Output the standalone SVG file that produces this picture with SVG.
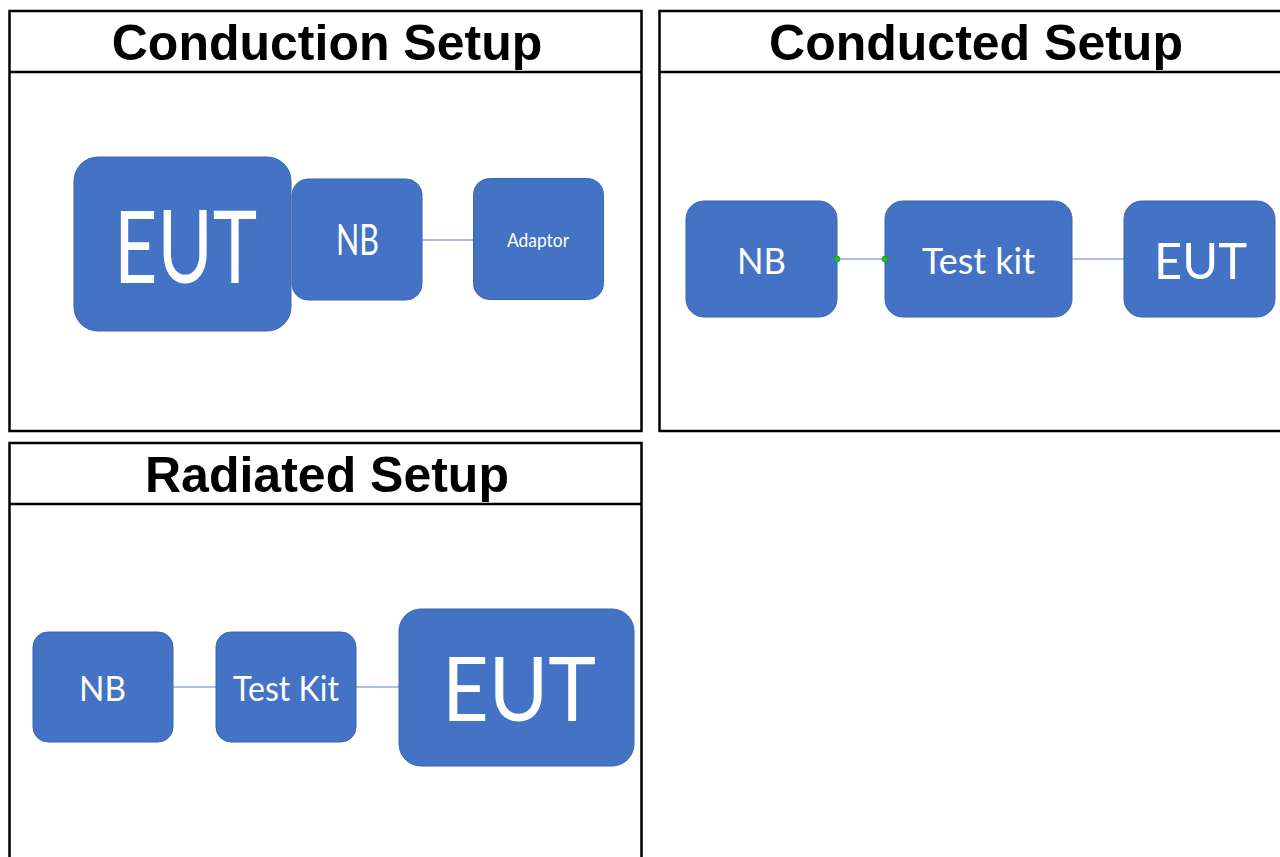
<svg xmlns="http://www.w3.org/2000/svg" width="1280" height="857" viewBox="0 0 1280 857">
<style>
.panel{fill:#fff;stroke:#000;stroke-width:2.5}
.hdr{stroke:#000;stroke-width:2.5}
.title{font-family:"Liberation Sans",Arial,sans-serif;font-weight:bold;font-size:50px;fill:#000;text-anchor:middle}
.box{fill:#4472C4;stroke:#3B65B0;stroke-width:1}
.lbl{font-family:Lato,"Open Sans",sans-serif;fill:#fff;text-anchor:middle}
.conn{stroke:#8FAADC;stroke-width:1.5;fill:none}
.dot{fill:#1FC01F;stroke:#128A12;stroke-width:0.6}
</style>
<rect width="1280" height="857" fill="#fff"/>
<g id="panel-conduction">
<rect class="panel" x="9.5" y="11" width="632" height="420"/>
<line class="hdr" x1="9.5" y1="72" x2="641.5" y2="72"/>
<text class="title" x="327" y="60">Conduction Setup</text>
</g>
<g id="panel-conducted">
<rect class="panel" x="659.5" y="11" width="640" height="420"/>
<line class="hdr" x1="659.5" y1="72" x2="1290" y2="72"/>
<text class="title" x="976" y="60">Conducted Setup</text>
</g>
<g id="panel-radiated">
<rect class="panel" x="9.5" y="443" width="632" height="440"/>
<line class="hdr" x1="9.5" y1="504" x2="641.5" y2="504"/>
<text class="title" x="327" y="492">Radiated Setup</text>
</g>
<g id="connectors">
<line class="conn" x1="422" y1="240" x2="474" y2="240"/>
<line class="conn" x1="837" y1="259" x2="885" y2="259"/>
<line class="conn" x1="1072" y1="259" x2="1124" y2="259"/>
<line class="conn" x1="173" y1="687" x2="216" y2="687"/>
<line class="conn" x1="356" y1="687" x2="399" y2="687"/>
</g>
<g id="c1-eut">
<rect class="box" x="74" y="157" width="217" height="174" rx="24"/>
<text class="lbl" x="185.5" y="283" font-size="101" textLength="143" lengthAdjust="spacingAndGlyphs">EUT</text>
</g>
<g id="c1-nb">
<rect class="box" x="292" y="179" width="130" height="121" rx="16"/>
<text class="lbl" x="357.5" y="255" font-size="42" textLength="43" lengthAdjust="spacingAndGlyphs">NB</text>
</g>
<g id="c1-adaptor">
<rect class="box" x="473.5" y="178.5" width="130" height="121" rx="16"/>
<text class="lbl" x="538" y="247" font-size="20" textLength="62" lengthAdjust="spacingAndGlyphs">Adaptor</text>
</g>
<g id="c2-nb">
<rect class="box" x="686" y="201" width="151" height="116" rx="18"/>
<text class="lbl" x="761.5" y="274" font-size="37" textLength="49" lengthAdjust="spacingAndGlyphs">NB</text>
</g>
<g id="c2-testkit">
<rect class="box" x="885" y="201" width="187" height="116" rx="18"/>
<text class="lbl" x="978.5" y="274" font-size="37" textLength="113" lengthAdjust="spacingAndGlyphs">Test kit</text>
</g>
<g id="c2-eut">
<rect class="box" x="1124" y="201" width="151" height="116" rx="18"/>
<text class="lbl" x="1200.5" y="279" font-size="51" textLength="93" lengthAdjust="spacingAndGlyphs">EUT</text>
</g>
<g id="r-nb">
<rect class="box" x="33" y="632" width="140" height="110" rx="15"/>
<text class="lbl" x="102.5" y="701" font-size="35" textLength="47" lengthAdjust="spacingAndGlyphs">NB</text>
</g>
<g id="r-testkit">
<rect class="box" x="216" y="632" width="140" height="110" rx="15"/>
<text class="lbl" x="286" y="701" font-size="35" textLength="106" lengthAdjust="spacingAndGlyphs">Test Kit</text>
</g>
<g id="r-eut">
<rect class="box" x="399" y="609" width="235" height="157" rx="22"/>
<text class="lbl" x="519" y="721" font-size="89" textLength="154" lengthAdjust="spacingAndGlyphs">EUT</text>
</g>
<g id="conn-dots">
<circle class="dot" cx="837" cy="259" r="3"/>
<circle class="dot" cx="885" cy="259" r="3"/>
</g>
</svg>
